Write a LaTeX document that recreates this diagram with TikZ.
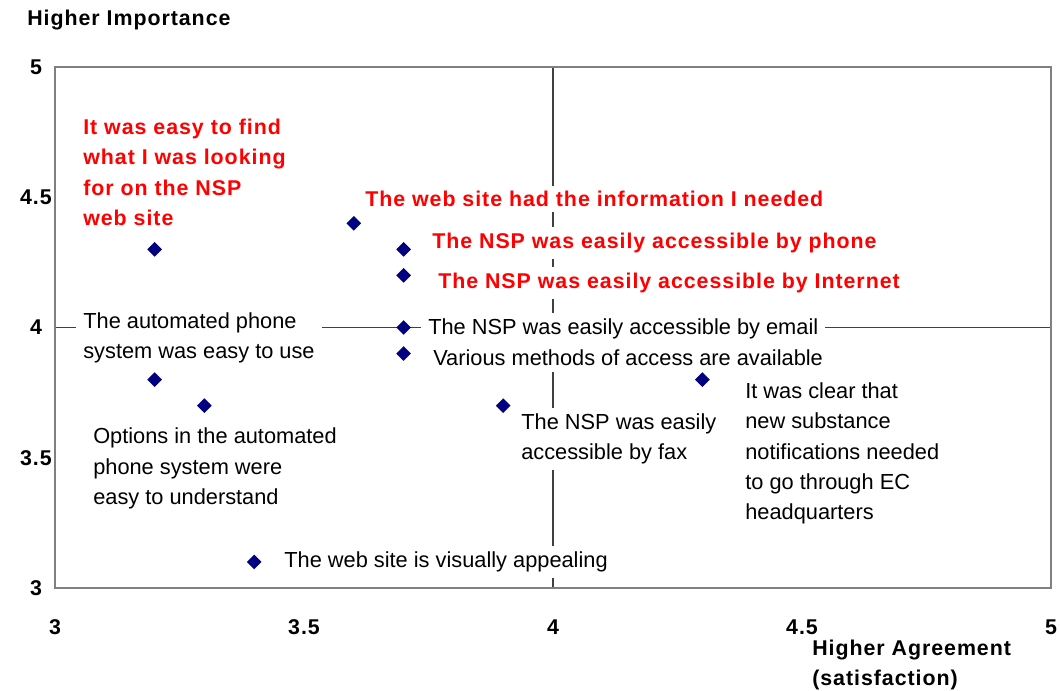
\documentclass[tikz,border=0pt]{standalone}
\usepackage{fontspec}
\setmainfont{Liberation Sans}
\newfontfamily\widebold[LetterSpace=4.5]{Liberation Sans}
\usetikzlibrary{shapes.geometric}

\definecolor{dotblue}{RGB}{0,0,128}
\definecolor{framegray}{RGB}{128,128,128}
\definecolor{hotred}{RGB}{255,0,0}

\begin{document}
\begin{tikzpicture}[x=12.45cm, y=6.5125cm]

	\tikzstyle frame lines=[draw=framegray, line width=1.2pt];
	\tikzstyle quadrant lines=[draw=black!75, line width=0.75pt];
	\tikzstyle item dot=[diamond, fill=dotblue, inner sep=0pt, minimum size=10.6pt];
	\tikzstyle plain label=[anchor=west, fill=white, inner xsep=5pt, inner ysep=4pt, align=left, font=\fontsize{15.5}{21.6}\selectfont];
	\tikzstyle hot label=[plain label, text=hotred, font=\fontsize{15.2}{21.6}\selectfont\widebold\bfseries];
	\tikzstyle axis text=[inner sep=0pt, align=left, font=\fontsize{15.2}{21.6}\selectfont\widebold\bfseries];

	\useasboundingbox (2.8896,2.6084) rectangle (5.0181,5.2572);

	% plot area and the two mid lines
	\coordinate (sw) at (3,3);
	\coordinate (ne) at (5,5);
	\coordinate (midl) at (3,4);
	\coordinate (midr) at (5,4);
	\coordinate (midb) at (4,3);
	\coordinate (midt) at (4,5);
	\draw[quadrant lines] (midl) -- (midr);
	\draw[quadrant lines] (midb) -- (midt);
	\draw[frame lines] (sw) rectangle (ne);

	% tick labels
	\foreach \y in {3,3.5,4,4.5,5}
		\node[axis text] (ytick-\y) at (2.9618,\y) {\y};
	\foreach \x in {3,3.5,4,4.5,5}
		\node[axis text] (xtick-\x) at (\x,2.8503) {\x};

	\node[axis text, anchor=west] (importance) at (2.9438,5.1805) {Higher Importance};
	\node[axis text, anchor=west] (agreement) at (4.5201,2.7040) {Higher Agreement\\(satisfaction)};

	% item texts
	\node[hot label] (easyfind) at (3.0422,4.5950) {It was easy to find\\what I was looking\\for on the NSP\\web site};
	\node[hot label] (hadinfo) at (3.6084,4.4933) {The web site had the information I needed};
	\node[hot label] (byphone) at (3.7430,4.3244) {The NSP was easily accessible by phone};
	\node[hot label] (byinternet) at (3.7550,4.1708) {The NSP was easily accessible by Internet};
	\node[plain label] (autophone) at (3.0422,3.9597) {The automated phone\\system was easy to use};
	\node[plain label] (byemail) at (3.7349,3.9942) {The NSP was easily accessible by email};
	\node[plain label] (methods) at (3.7450,3.8829) {Various methods of access are available};
	\node[plain label] (ecclear) at (4.3715,3.5163) {It was clear that\\new substance\\notifications needed\\to go through EC\\headquarters};
	\node[plain label] (byfax) at (3.9217,3.5720) {The NSP was easily\\accessible by fax};
	\node[plain label] (options) at (3.0622,3.4587) {Options in the automated\\phone system were\\easy to understand};
	\node[plain label] (appeal) at (3.4458,3.0998) {The web site is visually appealing};

	% the scores
	\foreach \x/\y [count=\i] in {3.2/4.3,3.6/4.4,3.7/4.3,3.7/4.2,3.7/4.0,3.7/3.9,3.2/3.8,3.3/3.7,3.9/3.7,4.3/3.8,3.4/3.1}
		\node[item dot] (score\i) at (\x,\y) {};

\end{tikzpicture}
\end{document}
